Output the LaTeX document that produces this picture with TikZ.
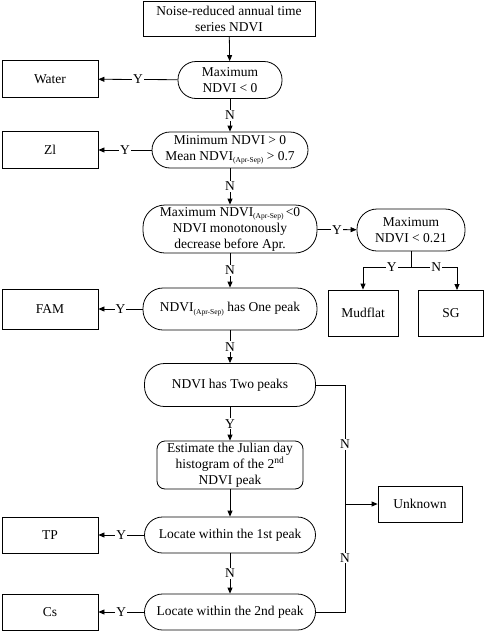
\documentclass[tikz,border=0pt]{standalone}
\usepackage{fontspec}
\setmainfont{Liberation Serif}
\usetikzlibrary{arrows.meta}
\begin{document}
\begin{tikzpicture}[x=1pt,y=-1pt,
  every node/.style={font=\fontsize{13.5}{16}\selectfont, align=center, inner sep=0pt},
  box/.style={draw, line width=0.8pt, minimum width=#1},
  stad/.style={draw, line width=0.8pt, rounded corners=18pt, minimum width=#1},
  rbox/.style={draw, line width=0.8pt, rounded corners=8pt, minimum width=#1},
  conn/.style={line width=0.8pt, -{Triangle[length=6pt,width=5pt]}},
  line/.style={line width=0.8pt},
  lab/.style={fill=white, inner sep=1pt}]
\useasboundingbox (0,0) rectangle (497,632);
\newcommand{\sbs}[1]{\raisebox{-2.5pt}{\fontsize{7.5}{8}\selectfont #1}}
% nodes
\node[box=172, minimum height=35] (top) at (229,19) {Noise-reduced annual time\\series NDVI};
\node[stad=104, minimum height=37] (max0) at (230,80) {Maximum\\NDVI < 0};
\node[box=96, minimum height=37] (water) at (50,79) {Water};
\node[stad=156, minimum height=36] (min) at (230,150) {Minimum NDVI > 0\\Mean NDVI\sbs{(Apr-Sep)} > 0.7};
\node[box=96, minimum height=37] (zl) at (50,150) {Zl};
\node[stad=174, minimum height=48, rounded corners=22pt] (maxas) at (230,229) {Maximum NDVI\sbs{(Apr-Sep)}\,<0\\NDVI monotonously\\decrease before Apr.};
\node[stad=108, minimum height=42, rounded corners=20pt] (max21) at (411,230) {Maximum\\NDVI < 0.21};
\node[box=70, minimum height=46] (mud) at (363,313) {Mudflat};
\node[box=65, minimum height=46] (sg) at (451,313) {SG};
\node[stad=174, minimum height=42, rounded corners=20pt] (fam1) at (230,309) {NDVI\sbs{(Apr-Sep)} has One peak};
\node[box=96, minimum height=40] (fam) at (50,309) {FAM};
\node[stad=171, minimum height=43, rounded corners=20pt] (two) at (230,385) {NDVI has Two peaks};
\node[rbox=146, minimum height=48] (est) at (230,465) {Estimate the Julian day\\histogram of the 2\textsuperscript{nd}\\NDVI peak};
\node[box=84, minimum height=36] (unk) at (420,504) {Unknown};
\node[stad=171, minimum height=36] (loc1) at (230,535) {Locate within the 1st peak};
\node[box=96, minimum height=36] (tp) at (50,535) {TP};
\node[stad=171, minimum height=36] (loc2) at (230,612) {Locate within the 2nd peak};
\node[box=96, minimum height=36] (cs) at (50,612) {Cs};
% connectors
\draw[conn] (top) -- (max0);
\draw[conn] (max0) -- node[lab]{Y} (water);
\draw[conn] (max0) -- node[lab]{N} (min);
\draw[conn] (min) -- node[lab]{Y} (zl);
\draw[conn] (min) -- node[lab]{N} (maxas);
\draw[conn] (maxas) -- node[lab]{Y} (max21);
\draw[conn] (maxas) -- node[lab]{N} (fam1);
\coordinate (br) at (max21.south |- 0,267);
\draw[line] (max21) -- (br);
\draw[conn] (br) -- node[lab, pos=0.4]{Y} (mud.north |- br) -- (mud);
\draw[conn] (br) -- node[lab, pos=0.55]{N} (457,267) -- (457,290);
\draw[conn] (fam1) -- node[lab]{Y} (fam);
\draw[conn] (fam1) -- node[lab]{N} (two);
\draw[conn] (two) -- node[lab]{Y} (est);
\draw[conn] (est) -- (loc1);
\draw[conn] (loc1) -- node[lab]{Y} (tp);
\draw[conn] (loc1) -- node[lab]{N} (loc2);
\draw[conn] (loc2) -- node[lab]{Y} (cs);
\coordinate (jn) at (345,504);
\draw[line] (two.east) -- (345,385) -- node[lab]{N} (jn);
\draw[line] (loc2.east) -- (345,612) -- node[lab]{N} (jn);
\draw[conn] (jn) -- (unk);
\end{tikzpicture}
\end{document}
